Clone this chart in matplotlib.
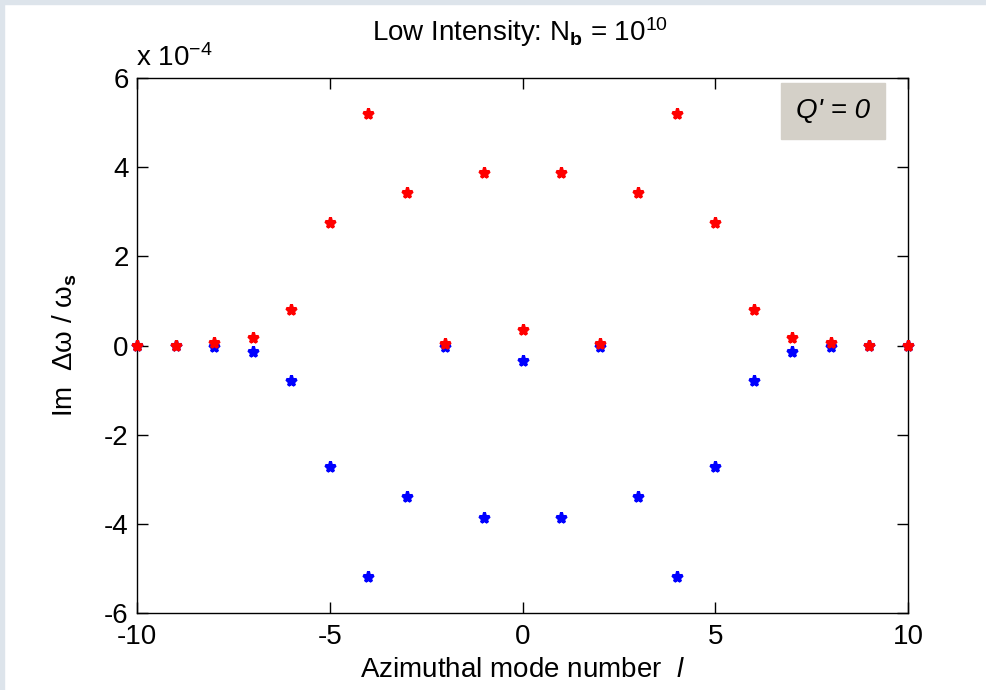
import matplotlib
matplotlib.use("Agg")
import matplotlib.pyplot as plt
from matplotlib.patches import Rectangle

plt.rcParams['font.family'] = ['Liberation Sans', 'DejaVu Sans']
plt.rcParams['mathtext.fontset'] = 'custom'
plt.rcParams['mathtext.rm'] = 'Liberation Sans'
plt.rcParams['mathtext.it'] = 'Liberation Sans:italic'
plt.rcParams['mathtext.bf'] = 'Liberation Sans:bold'

modes = list(range(-10, 11))
# Im(delta omega / omega_s) in units of 1e-4
red_vals = [0.0, 0.0, 0.05, 0.17, 0.80, 2.75, 5.20, 3.42, 0.03, 3.87, 0.35,
            3.87, 0.03, 3.42, 5.20, 2.75, 0.80, 0.17, 0.05, 0.0, 0.0]
blue_vals = [0.0, 0.0, -0.03, -0.15, -0.80, -2.72, -5.19, -3.40, -0.03, -3.87, -0.35,
             -3.87, -0.03, -3.40, -5.19, -2.72, -0.80, -0.15, -0.03, 0.0, 0.0]
x_ticks = [-10, -5, 0, 5, 10]
y_ticks = [-6, -4, -2, 0, 2, 4, 6]

FS = 20

fig = plt.figure(figsize=(9.86, 6.9), dpi=100)
fig.patch.set_facecolor('white')
border = '#dde4eb'
fig.add_artist(Rectangle((0, 0), 4/986, 1, transform=fig.transFigure, color=border, zorder=0))
fig.add_artist(Rectangle((0, 1-4/690), 1, 4/690, transform=fig.transFigure, color=border, zorder=0))

ax = fig.add_axes([137/986, 1-613/690, (908-137)/986, (613-78)/690])
ax.plot(modes, blue_vals, linestyle='none', marker='*', color='blue', ms=8, mew=2.2, clip_on=False, zorder=3)
ax.plot(modes, red_vals, linestyle='none', marker='*', color='red', ms=8, mew=2.2, clip_on=False, zorder=4)

ax.set_xlim(-10, 10)
ax.set_ylim(-6, 6)
ax.set_xticks(x_ticks)
ax.set_yticks(y_ticks)
ax.set_xticklabels([str(t) for t in x_ticks])
ax.set_yticklabels([str(t) for t in y_ticks])
ax.tick_params(direction='in', length=8, width=1, labelsize=FS, top=True, right=True)
ax.tick_params(axis='x', pad=8)
ax.tick_params(axis='y', pad=6)
for s in ax.spines.values():
    s.set_linewidth(1)

ax.set_xlabel('Azimuthal mode number  $\\mathit{l}$', fontsize=FS, labelpad=5)
ax.set_ylabel('Im  Δω / ω$_{\\mathbf{s}}$', fontsize=FS, labelpad=18)
fig.text(520/986, 1-32/690, 'Low Intensity: N$_{\\mathbf{b}}$ = 10$^{10}$', fontsize=FS,
         ha='center', va='center')

fig.text(136/986, 1-58/690, 'x 10$^{-4}$', fontsize=FS, ha='left', va='center')

ax.text(0.951, 0.963, "Q' = 0", transform=ax.transAxes, fontsize=FS, style='italic',
        ha='right', va='top',
        bbox=dict(boxstyle='square,pad=0.55', facecolor='#d4d0c8', edgecolor='#d4d0c8'))

fig.savefig('out.png', dpi=100)
